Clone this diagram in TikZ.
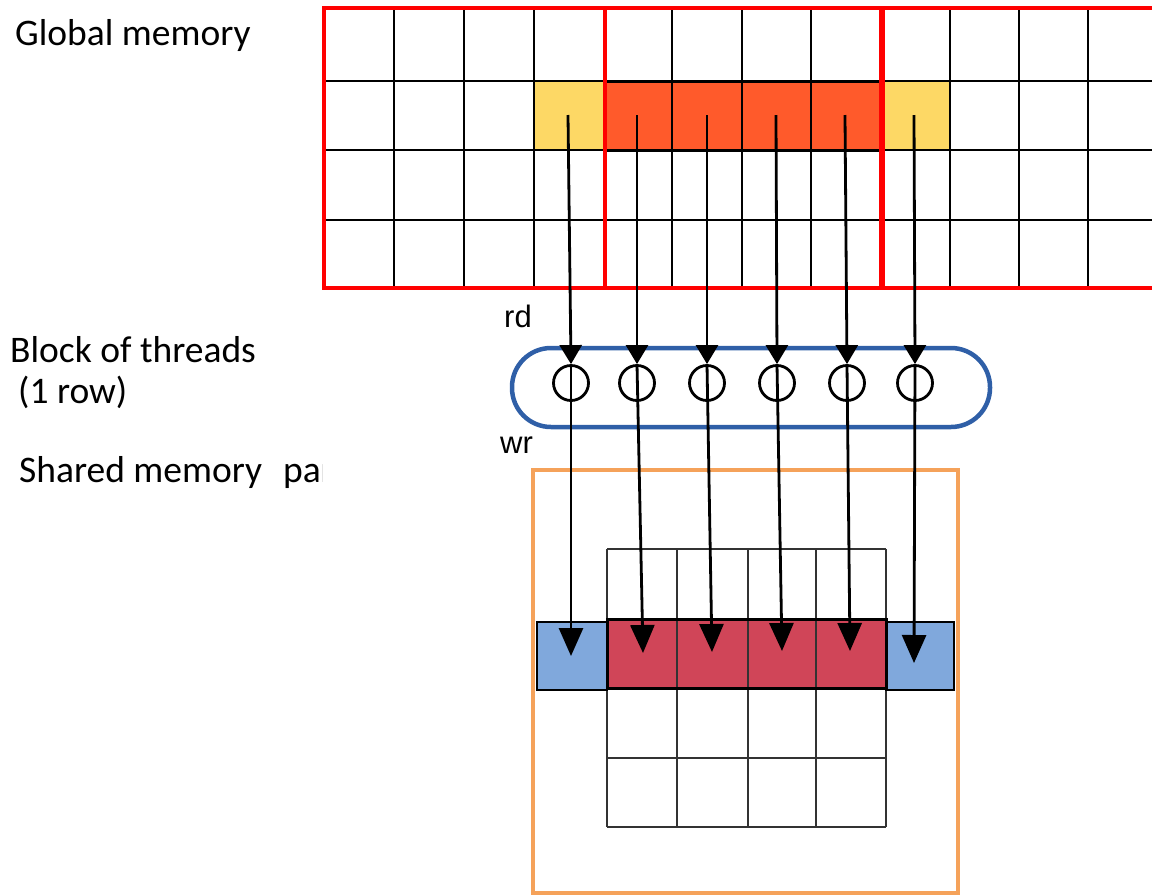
\documentclass[tikz,border=0pt]{standalone}
\usepackage{fontspec}
\setmainfont{Carlito}
\newfontfamily\arialfont{Liberation Sans}
\usetikzlibrary{arrows.meta}
\definecolor{gmred}{HTML}{FF0000}
\definecolor{yel}{HTML}{FDD865}
\definecolor{org}{HTML}{FF5A2B}
\definecolor{thblue}{HTML}{2F5FA7}
\definecolor{shorange}{HTML}{F5A25A}
\definecolor{shblue}{HTML}{80A8DC}
\definecolor{shred}{HTML}{D04558}
\tikzset{
  lbl/.style={anchor=base west, inner sep=0pt, font=\fontsize{37.5}{44}\selectfont},
  rwlbl/.style={anchor=base west, inner sep=0pt, font=\arialfont\fontsize{31}{34}\selectfont},
  gline/.style={draw=black, line width=2.2pt},
  sline/.style={draw=black!80, line width=1.8pt},
  thread/.style={circle, draw=black, line width=2.8pt, minimum size=35pt, inner sep=0pt},
  rdarrow/.style={draw=black, line width=2.8pt, -{Triangle[width=22pt,length=19pt]}},
  wrarrow/.style={draw=black, line width=2.8pt, -{Triangle[width=24pt,length=28pt]}},
}
\begin{document}
\begin{tikzpicture}[x=1pt, y=-1pt]
\useasboundingbox (0,0) rectangle (1152,895);
\clip (0,0) rectangle (1152,895);
% ---------------- Global memory ----------------
\fill[yel] (534,81) rectangle (605,150);
\fill[yel] (882,81) rectangle (950,150);
\fill[org] (605,81) rectangle (882,150);
\foreach \x in {324,394,464,534,605,672,742,811,882,950,1019,1088}
  \draw[gline] (\x,8) -- (\x,288);
\foreach \y in {8,81,150,220,288}
  \draw[gline] (324,\y) -- (1160,\y);
\draw[black, line width=2.4pt] (534,81) rectangle (950,150);
\draw[black, line width=3pt] (605,81) rectangle (882,150);
\draw[gmred, line width=4.5pt] (324,8) rectangle (1170,288);
\draw[gmred, line width=4pt] (605,8) -- (605,288);
\draw[gmred, line width=5.5pt] (882,8) -- (882,288);
% ---------------- Shared memory ----------------
\draw[shorange, line width=4pt] (533,470) rectangle (958,893);
\fill[shblue] (537,622) rectangle (607,690);
\fill[shblue] (886,622) rectangle (954,690);
\fill[shred] (607,619) rectangle (886,688);
\foreach \x in {607,677,748,816,886}
  \draw[sline] (\x,549) -- (\x,827);
\foreach \y in {549,619,688,758,827}
  \draw[sline] (607,\y) -- (886,\y);
\draw[black, line width=1.8pt] (537,622) rectangle (607,690);
\draw[black, line width=1.8pt] (886,622) rectangle (954,690);
\draw[black, line width=3pt] (607,619) rectangle (886,688);
% ---------------- Block of threads ----------------
\draw[thblue, line width=4.5pt, rounded corners=39pt] (512,348) rectangle (990,427);
\foreach \i/\x in {1/571,2/637,3/707,4/777,5/847,6/915}
  \node[thread] (t\i) at (\x,383) {};
% source and destination points
\foreach \i/\x in {1/568,2/637,3/707,4/776,5/845,6/914}
  \coordinate (g\i) at (\x,115);
\coordinate (s1) at (571,656);
\coordinate (s2) at (643,653);
\coordinate (s3) at (712,652);
\coordinate (s4) at (782,651);
\coordinate (s5) at (850,651);
\coordinate (s6) at (914,663);
\foreach \i in {1,...,6}{
  \draw[rdarrow] (g\i) -- (t\i.north);
  \draw[wrarrow] (t\i.north) -- (s\i);
}
% ---------------- Labels ----------------
\node[lbl] (lglobal) at (15,45) {Global memory};
\node[lbl] (lblock) at (10,362) {Block of threads};
\node[lbl] (lrow) at (18,403) {(1 row)};
\begin{scope}
\clip (0,440) rectangle (322,500);
\node[lbl] (lshared) at (19,482) {Shared memory\hspace{21pt}par};
\end{scope}
\node[rwlbl] (lrd) at (504,327) {rd};
\node[rwlbl] (lwr) at (500,453) {wr};
\end{tikzpicture}
\end{document}
